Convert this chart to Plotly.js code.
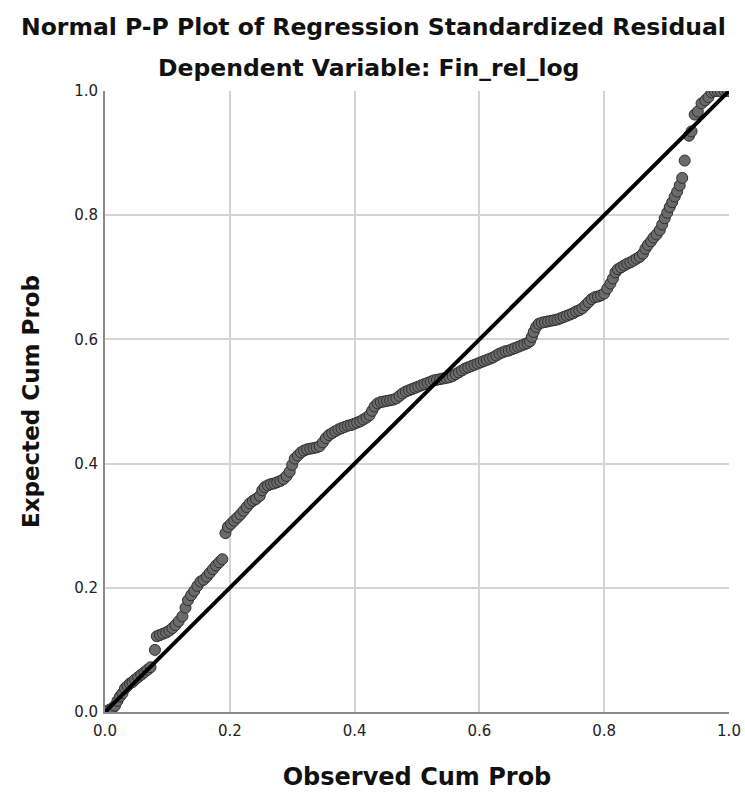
<!DOCTYPE html>
<html>
<head>
<meta charset="utf-8">
<script src="https://cdn.plot.ly/plotly-3.0.1.min.js"></script>
<style>html,body{margin:0;padding:0;background:#fff;}#chart{width:745px;height:794px;}</style>
</head>
<body>
<div id="chart"></div>
<script>
const observedCumProb = [0.004,0.008,0.012,0.016,0.02,0.024,0.028,0.032,0.036,0.04,0.044,0.048,0.053,0.058,0.063,0.068,0.073,
0.08,0.083,0.088,0.093,0.098,0.103,0.108,0.113,0.118,0.124,0.129,0.133,0.138,0.143,0.148,0.153,0.158,0.163,0.168,0.173,0.178,0.183,0.188,
0.193,0.197,0.202,0.207,0.212,0.217,0.222,0.227,0.232,0.237,0.242,0.248,0.252,0.256,0.261,0.266,0.271,0.276,0.281,0.286,0.291,0.296,0.300,0.304,0.309,0.314,0.319,0.324,0.329,0.334,0.339,0.344,0.349,0.354,0.359,0.364,0.369,0.374,0.379,0.384,0.389,0.394,0.399,0.404,0.409,0.414,0.419,0.424,0.428,0.432,0.437,0.442,0.447,0.452,0.457,0.462,0.467,0.472,0.477,0.482,0.487,0.492,0.497,0.502,0.507,0.512,0.517,0.522,0.527,0.532,0.537,0.542,0.547,0.552,0.557,0.562,0.567,0.572,0.577,0.582,0.587,0.592,0.597,0.602,0.607,0.612,0.617,0.622,0.627,0.632,0.637,0.642,0.647,0.652,0.657,0.662,0.667,0.672,0.677,0.681,0.684,0.687,0.691,0.695,0.700,0.705,0.71,0.715,0.72,0.725,0.73,0.735,0.74,0.745,0.75,0.755,0.76,0.765,0.77,0.775,0.78,0.785,0.79,0.795,0.8,0.805,0.81,0.814,0.818,0.822,0.827,0.832,0.837,0.842,0.847,0.852,0.857,0.862,0.866,0.870,0.875,0.879,0.884,0.889,0.893,0.897,0.901,0.905,0.909,0.913,0.917,0.921,0.925,0.929,0.936,0.94,0.945,0.95,0.956,0.962,0.967,0.972,0.977,0.982,0.987,0.993,0.998];
const expectedCumProb = [0.002,0.004,0.006,0.01,0.018,0.025,0.03,0.038,0.042,0.046,0.048,0.052,0.056,0.06,0.064,0.068,0.072,
0.10,0.122,0.124,0.126,0.128,0.131,0.135,0.14,0.146,0.154,0.168,0.18,0.188,0.195,0.203,0.21,0.213,0.218,0.224,0.23,0.236,0.241,0.246,
0.288,0.298,0.303,0.308,0.313,0.318,0.324,0.33,0.336,0.34,0.343,0.348,0.357,0.362,0.365,0.367,0.368,0.37,0.372,0.375,0.38,0.387,0.398,0.408,0.413,0.418,0.421,0.423,0.424,0.425,0.426,0.428,0.434,0.441,0.446,0.449,0.452,0.455,0.457,0.459,0.461,0.462,0.464,0.466,0.468,0.471,0.474,0.478,0.485,0.492,0.497,0.499,0.5,0.501,0.502,0.503,0.505,0.509,0.513,0.516,0.518,0.52,0.522,0.524,0.526,0.528,0.53,0.532,0.534,0.535,0.536,0.537,0.538,0.539,0.541,0.544,0.547,0.55,0.553,0.555,0.557,0.559,0.561,0.563,0.565,0.567,0.569,0.571,0.574,0.577,0.579,0.581,0.582,0.584,0.586,0.588,0.59,0.592,0.594,0.597,0.604,0.612,0.62,0.625,0.627,0.628,0.629,0.63,0.631,0.632,0.634,0.636,0.638,0.64,0.642,0.645,0.647,0.65,0.655,0.66,0.665,0.668,0.669,0.671,0.674,0.682,0.69,0.698,0.708,0.713,0.716,0.719,0.722,0.724,0.727,0.73,0.733,0.738,0.746,0.752,0.758,0.764,0.769,0.776,0.785,0.795,0.804,0.813,0.821,0.83,0.838,0.848,0.86,0.888,0.928,0.935,0.962,0.967,0.98,0.985,0.99,0.998,1.0,1.0,1.0,1.0,1.0];
const refLineX = [0, 1];
const refLineY = [0, 1];
const tickVals = [0, 0.2, 0.4, 0.6, 0.8, 1.0];
const tickText = ["0.0", "0.2", "0.4", "0.6", "0.8", "1.0"];

const FONT = "DejaVu Sans, sans-serif";
const traces = [
  {x: observedCumProb, y: expectedCumProb, type: "scatter", mode: "markers",
   marker: {size: 11, color: "#6b6b6b", line: {color: "#2e2e2e", width: 1}}},
  {x: refLineX, y: refLineY, type: "scatter", mode: "lines",
   line: {color: "#000", width: 4}, hoverinfo: "skip"}
];
const axisCommon = {
  range: [0, 1], tickvals: tickVals, ticktext: tickText,
  showgrid: true, gridcolor: "#d4d4d4", gridwidth: 2,
  zeroline: false, showline: true, linecolor: "#8a8a8a", linewidth: 2,
  ticks: "", tickfont: {family: FONT, size: 15, color: "#222"},
  fixedrange: true
};
const layout = {
  width: 745, height: 794,
  margin: {l: 105, r: 16, t: 91, b: 82},
  paper_bgcolor: "#fff", plot_bgcolor: "#fff",
  showlegend: false,
  xaxis: Object.assign({}, axisCommon, {
    ticklabelstandoff: 4,
    title: {text: "<b>Observed Cum Prob</b>", font: {family: FONT, size: 24, color: "#111"}, standoff: 29}
  }),
  yaxis: Object.assign({}, axisCommon, {
    ticklabelstandoff: 2,
    title: {text: "<b>Expected Cum Prob</b>", font: {family: FONT, size: 23, color: "#111"}, standoff: 28}
  }),
  annotations: [
    {text: "<b>Normal P-P Plot of Regression Standardized Residual</b>", xref: "paper", yref: "paper",
     x: 0.4295, y: 1, yshift: 64, xanchor: "center", yanchor: "middle", showarrow: false,
     font: {family: FONT, size: 23.5, color: "#111"}},
    {text: "<b>Dependent Variable: Fin_rel_log</b>", xref: "paper", yref: "paper",
     x: 0.4215, y: 1, yshift: 23, xanchor: "center", yanchor: "middle", showarrow: false,
     font: {family: FONT, size: 23.5, color: "#111"}}
  ]
};
Plotly.newPlot("chart", traces, layout, {displayModeBar: false, staticPlot: true});
</script>
</body>
</html>
